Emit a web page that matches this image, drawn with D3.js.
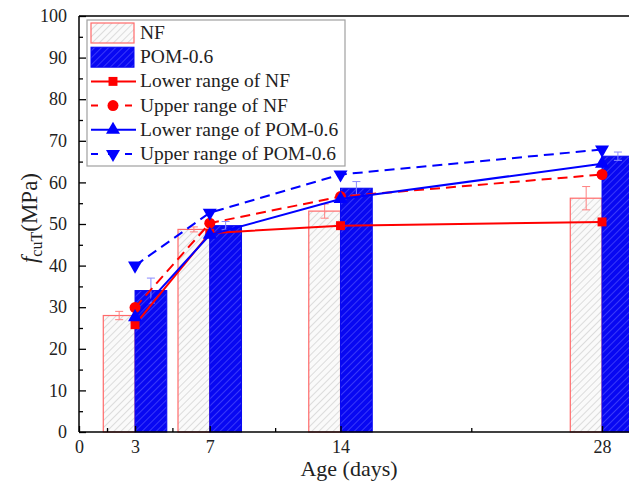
<!DOCTYPE html>
<html lang="en">
<head>
<meta charset="utf-8">
<title>fcuT vs age</title>
<script type="text/javascript" src="https://d3js.org/d3.v7.min.js"></script>
<style>
  body { margin: 0; background: #fff; }
  text { font-family: "Liberation Serif", "Times New Roman", serif; }
</style>
</head>
<body>
<script type="text/javascript">

// data
var days = [3, 7, 14, 28];
var nfMean = [28.0, 48.7, 53.1, 56.2],
    nfErr = [1.0, 0.6, 1.7, 2.8];
var pomMean = [34.0, 49.6, 58.6, 66.3],
    pomErr = [3.0, 1.0, 1.6, 1.0];
var nfLower = [25.8, 47.8, 49.6, 50.5],
    nfUpper = [29.9, 50.2, 56.6, 61.9],
    pomLower = [27.6, 47.4, 56.0, 64.5],
    pomUpper = [40.0, 52.7, 61.9, 67.9];
var xTicks = [0, 3, 7, 14, 28],
    xMinor = [1.5, 5, 10.5, 21];
var yTicks = d3.range(0, 101, 10),
    yMinor = d3.range(5, 100, 10);
var legendItems = ["NF", "POM-0.6", "Lower range of NF", "Upper range of NF",
                   "Lower range of POM-0.6", "Upper range of POM-0.6"];

var w = 629, h = 484,
    plotL = 79, plotT = 16, plotB = 432;
var barW = 1.7; // in days

var svg = d3.select("body").append("svg")
  .attr("width", w).attr("height", h);

var defs = svg.append("defs");
var p1 = defs.append("pattern").attr("id", "hatchNF")
  .attr("patternUnits", "userSpaceOnUse").attr("width", 5).attr("height", 5)
  .attr("patternTransform", "rotate(45)");
p1.append("rect").attr("width", 5).attr("height", 5).attr("fill", "#fafafa");
p1.append("line").attr("x1", 0).attr("y1", 0).attr("x2", 0).attr("y2", 5)
  .attr("stroke", "#c8c8c8").attr("stroke-width", 1.2);

var p2 = defs.append("pattern").attr("id", "hatchPOM")
  .attr("patternUnits", "userSpaceOnUse").attr("width", 5).attr("height", 5)
  .attr("patternTransform", "rotate(45)");
p2.append("rect").attr("width", 5).attr("height", 5).attr("fill", "#0808f2");
p2.append("line").attr("x1", 0).attr("y1", 0).attr("x2", 0).attr("y2", 5)
  .attr("stroke", "#5a5aff").attr("stroke-width", 1.2);

var x = d3.scaleLinear().domain([0, 30.5]).range([plotL, plotL + 30.5 * 18.68]);
var y = d3.scaleLinear().domain([0, 100]).range([plotB, plotT]);

// bars
var g = svg.append("g");
g.selectAll(".nf").data(days).enter().append("rect")
  .attr("x", function(d) { return x(d - barW); })
  .attr("width", function(d) { return x(d) - x(d - barW); })
  .attr("y", function(d, i) { return y(nfMean[i]); })
  .attr("height", function(d, i) { return y(0) - y(nfMean[i]); })
  .attr("fill", "url(#hatchNF)")
  .attr("stroke", "#ff6a6a").attr("stroke-width", 1.2);

g.selectAll(".pom").data(days).enter().append("rect")
  .attr("x", function(d) { return x(d); })
  .attr("width", function(d) { return x(d + barW) - x(d); })
  .attr("y", function(d, i) { return y(pomMean[i]); })
  .attr("height", function(d, i) { return y(0) - y(pomMean[i]); })
  .attr("fill", "url(#hatchPOM)")
  .attr("stroke", "#0808f2").attr("stroke-width", 1);

// error bars
function errBars(off, mean, err, col) {
  days.forEach(function(d, i) {
    var cx = x(d + off), y1 = y(mean[i] + err[i]), y2 = y(mean[i] - err[i]);
    var eb = g.append("g").attr("stroke", col).attr("stroke-width", 1);
    eb.append("line").attr("x1", cx).attr("x2", cx).attr("y1", y1).attr("y2", y2);
    eb.append("line").attr("x1", cx - 4).attr("x2", cx + 4).attr("y1", y1).attr("y2", y1);
    eb.append("line").attr("x1", cx - 4).attr("x2", cx + 4).attr("y1", y2).attr("y2", y2);
  });
}
errBars(-barW / 2, nfMean, nfErr, "#ff8080");
errBars(barW / 2, pomMean, pomErr, "#8a8aff");

// range lines
var series = [
  {vals: nfLower, col: "#ff0000", dash: null, sym: d3.symbolSquare, size: 80, rot: 0},
  {vals: nfUpper, col: "#ff0000", dash: "10,6", sym: d3.symbolCircle, size: 95, rot: 0},
  {vals: pomLower, col: "#0000ff", dash: null, sym: d3.symbolTriangle, size: 85, rot: 0},
  {vals: pomUpper, col: "#0000ff", dash: "10,6", sym: d3.symbolTriangle, size: 85, rot: 180}
];
var line = d3.line().x(function(d) { return x(d[0]); }).y(function(d) { return y(d[1]); });

series.forEach(function(s) {
  var pts = days.map(function(d, i) { return [d, s.vals[i]]; });
  g.append("path").attr("d", line(pts))
    .attr("fill", "none").attr("stroke", s.col).attr("stroke-width", 2)
    .attr("stroke-dasharray", s.dash);
  g.selectAll(null).data(pts).enter().append("path")
    .attr("d", d3.symbol().type(s.sym).size(s.size))
    .attr("transform", function(d) { return "translate(" + x(d[0]) + "," + y(d[1]) + ") rotate(" + s.rot + ")"; })
    .attr("fill", s.col);
});

// axes
var ax = svg.append("g").attr("stroke", "#000").attr("stroke-width", 1.5);
ax.append("line").attr("x1", plotL).attr("x2", w).attr("y1", plotB).attr("y2", plotB);
ax.append("line").attr("x1", plotL).attr("x2", plotL).attr("y1", plotT).attr("y2", plotB);
ax.append("line").attr("x1", plotL).attr("x2", w).attr("y1", plotT).attr("y2", plotT);

var yAxis = d3.axisLeft(y).tickValues(yTicks).tickSizeInner(-7).tickSizeOuter(0).tickPadding(12);
var ya = svg.append("g").attr("transform", "translate(" + plotL + ",0)").call(yAxis);
ya.select(".domain").remove();
ya.selectAll("text").attr("font-size", 18).attr("font-family", "Liberation Serif").attr("fill", "#222");
ya.selectAll("line").attr("stroke-width", 1.3);
var yMin = d3.axisLeft(y).tickValues(yMinor).tickSizeInner(-4).tickSizeOuter(0).tickFormat("");
var ym = svg.append("g").attr("transform", "translate(" + plotL + ",0)").call(yMin);
ym.select(".domain").remove();
ym.selectAll("line").attr("stroke-width", 1.3);

var xAxis = d3.axisBottom(x).tickValues(xTicks).tickSizeInner(-6).tickSizeOuter(0).tickPadding(8);
var xa = svg.append("g").attr("transform", "translate(0," + plotB + ")").call(xAxis);
xa.select(".domain").remove();
xa.selectAll("text").attr("font-size", 18).attr("font-family", "Liberation Serif").attr("fill", "#222");
xa.selectAll("line").attr("stroke-width", 1.3);
var xMin = d3.axisBottom(x).tickValues(xMinor).tickSizeInner(-4).tickSizeOuter(0).tickFormat("");
var xm = svg.append("g").attr("transform", "translate(0," + plotB + ")").call(xMin);
xm.select(".domain").remove();
xm.selectAll("line").attr("stroke-width", 1.3);

// axis titles
svg.append("text").attr("x", 349).attr("y", 476).attr("text-anchor", "middle")
  .attr("font-size", 22).attr("fill", "#222").text("Age (days)");

var yt = svg.append("text").attr("transform", "translate(37,218) rotate(-90)")
  .attr("text-anchor", "middle").attr("font-size", 23).attr("fill", "#222");
yt.append("tspan").attr("font-style", "italic").text("f");
yt.append("tspan").attr("font-size", 16).attr("dy", 5).text("cuT");
yt.append("tspan").attr("dy", -5).text("(MPa)");

// legend
var lg = svg.append("g");
lg.append("rect").attr("x", 87).attr("y", 20).attr("width", 258).attr("height", 146)
  .attr("fill", "#fff").attr("stroke", "#a0a0a0").attr("stroke-width", 1.2);
var rowY = function(i) { return 33 + i * 24.2; };
lg.append("rect").attr("x", 91).attr("y", rowY(0) - 10).attr("width", 43).attr("height", 20)
  .attr("fill", "url(#hatchNF)").attr("stroke", "#ff6a6a").attr("stroke-width", 1.2);
lg.append("rect").attr("x", 91).attr("y", rowY(1) - 10).attr("width", 43).attr("height", 20)
  .attr("fill", "url(#hatchPOM)").attr("stroke", "#0808f2").attr("stroke-width", 1);
series.forEach(function(s, k) {
  var yy = rowY(k + 2);
  lg.append("line").attr("x1", 91).attr("x2", 136).attr("y1", yy).attr("y2", yy)
    .attr("stroke", s.col).attr("stroke-width", 2).attr("stroke-dasharray", s.dash ? "7,10" : null);
  lg.append("path").attr("d", d3.symbol().type(s.sym).size(s.size))
    .attr("transform", "translate(113," + yy + ") rotate(" + s.rot + ")")
    .attr("fill", s.col);
});
lg.selectAll(".lt").data(legendItems).enter().append("text")
  .attr("x", 140).attr("y", function(d, i) { return rowY(i) + 6; })
  .attr("font-size", 19.5).attr("fill", "#222").text(function(d) { return d; });

</script>
</body>
</html>
